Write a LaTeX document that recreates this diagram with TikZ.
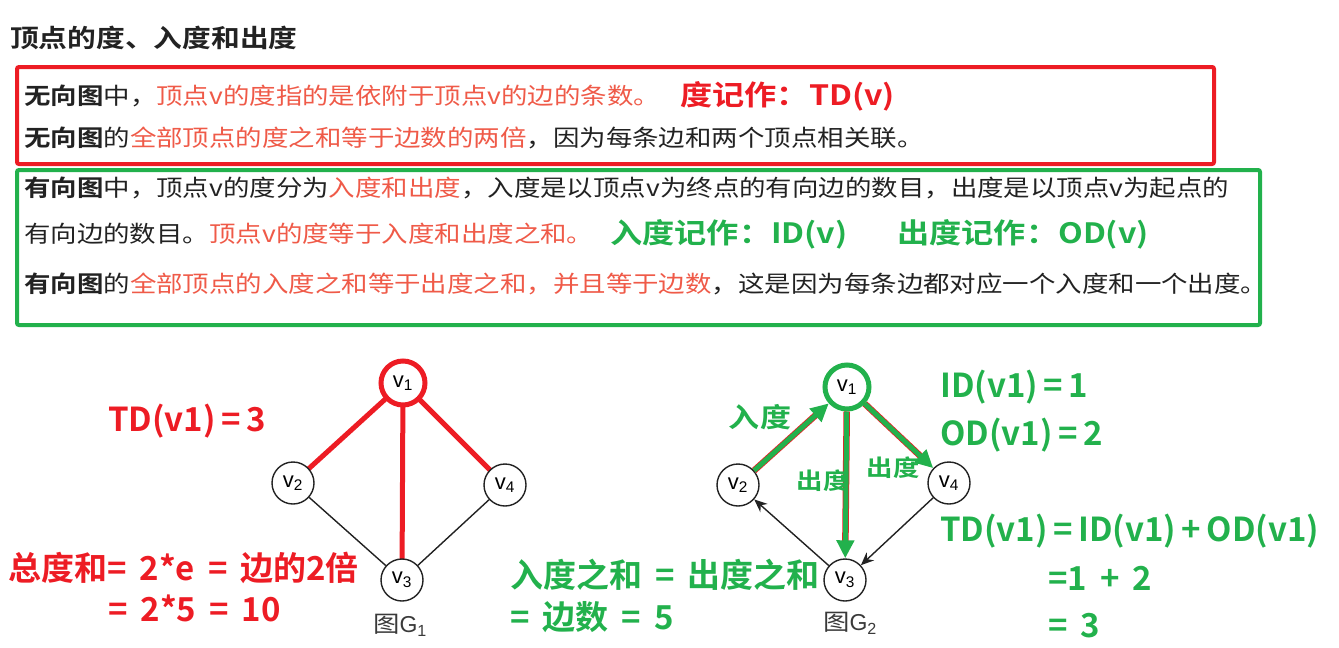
\documentclass[tikz,border=0pt]{standalone}
\usepackage{fontspec}
\setmainfont{Noto Sans CJK SC}[FakeStretch=1.15,BoldFont={Noto Sans CJK SC Bold}]
\newfontfamily\annfont{Noto Sans CJK SC}[BoldFont={Noto Sans CJK SC Bold}]
\newfontfamily\graphfont{Liberation Sans}
\usepackage{tikz}
\usetikzlibrary{arrows.meta}
\definecolor{HRed}{HTML}{ED1C24}
\definecolor{HSalmon}{HTML}{EF5A48}
\definecolor{HGreen}{HTML}{22B14C}
\definecolor{HInk}{HTML}{222222}
\definecolor{HGray}{HTML}{3A3A3A}
\newcommand{\hl}[1]{\textcolor{HSalmon}{#1}}
\newcommand{\widegap}{\spaceskip=13pt plus 2pt\relax}

\begin{document}
\begin{tikzpicture}[
  x=1pt,y=-1pt,
  body/.style={anchor=west,inner sep=0pt,text=HInk,font=\fontsize{23}{28}\selectfont},
  tagtext/.style={anchor=west,inner sep=0pt,font=\bfseries\fontsize{28}{30}\selectfont},
  big/.style={anchor=west,inner sep=0pt,execute at begin node=\widegap,
    font=\annfont\bfseries\fontsize{33}{36}\selectfont},
  lbl/.style={inner sep=0pt,text=HGreen,font=\bfseries\fontsize{#1}{#1}\selectfont},
  box/.style={line width=4pt,rounded corners=2pt},
  vtx/.style={circle,draw=HInk,line width=1.4pt,minimum size=42pt,inner sep=0pt,
    fill=white,font={\graphfont\fontsize{22}{22}\selectfont}},
  hot/.style={line width=5pt,minimum size=44pt},
  captext/.style={inner sep=0pt,text=HGray,font=\fontsize{23}{23}\selectfont},
  plainedge/.style={line width=1.4pt,color=HInk},
  redge/.style={line width=5pt,color=HRed},
  ghost/.style={line width=6.5pt,color=HRed},
  garr/.style={-{Triangle[length=18pt,width=17pt]},line width=5pt,color=HGreen},
  barr/.style={-{Stealth[length=13pt,width=11pt]},line width=1.4pt,color=HInk}
]
  \useasboundingbox (0,0) rectangle (1339,648);

  \node[anchor=west,inner sep=0pt,font=\bfseries\fontsize{25}{28}\selectfont,text=HInk]
    (title) at (10,38) {顶点的度、入度和出度};

  % undirected box
  \draw[box,HRed] (17,67) rectangle (1214,164);
  \node[body] (u1) at (24,96)
    {\textbf{无向图}中，\hl{顶点v的度指的是依附于顶点v的边的条数。}};
  \node[tagtext,text=HRed] (tdv) at (680,96) {度记作：TD(v)};
  \node[body] (u2) at (24,138)
    {\textbf{无向图}的\hl{全部顶点的度之和等于边数的两倍}，因为每条边和两个顶点相关联。};

  % directed box
  \draw[box,HGreen] (17,170) rectangle (1260,325);
  \node[body] (d1) at (24,188)
    {\textbf{有向图}中，顶点v的度分为\hl{入度和出度}，入度是以顶点v为终点的有向边的数目，出度是以顶点v为起点的};
  \node[body] (d2) at (24,234)
    {有向边的数目。\hl{顶点v的度等于入度和出度之和。}};
  \node[tagtext,text=HGreen] (idv) at (610,234) {入度记作：ID(v)};
  \node[tagtext,text=HGreen] (odv) at (897,234) {出度记作：OD(v)};
  \node[body] (d3) at (24,284)
    {\textbf{有向图}的\hl{全部顶点的入度之和等于出度之和，并且等于边数}，这是因为每条边都对应一个入度和一个出度。};

  % graph G1
  \draw[redge] (403,383) -- (293,483);
  \draw[redge] (403,383) -- (402,580);
  \draw[redge] (403,383) -- (505,485);
  \node[vtx,hot,draw=HRed] (a1) at (403,383) {v\textsubscript{1}};
  \node[vtx] (a2) at (293,483) {v\textsubscript{2}};
  \node[vtx] (a3) at (402,580) {v\textsubscript{3}};
  \node[vtx] (a4) at (505,485) {v\textsubscript{4}};
  \draw[plainedge] (a2) -- (a3);
  \draw[plainedge] (a4) -- (a3);
  \node[captext] (g1) at (400,625) {图{\graphfont G\textsubscript{1}}};

  \node[big,text=HRed] (tdone) at (108,421) {TD(v1)\,=\,3};
  \node[big,text=HRed] (sum1) at (8,568) {总度和= 2*e = 边的2倍};
  \node[big,text=HRed] (sum2) at (108,608) {= 2*5 = 10};

  % graph G2
  \node[vtx,hot,draw=HGreen] (b1) at (847,387) {v\textsubscript{1}};
  \node[vtx] (b2) at (738,485) {v\textsubscript{2}};
  \node[vtx] (b3) at (845,580) {v\textsubscript{3}};
  \node[vtx] (b4) at (949,483) {v\textsubscript{4}};
  \draw[ghost,shorten >=14pt] (b2) -- (b1);
  \draw[ghost,shorten >=14pt] (b1) -- (b3);
  \draw[ghost,shorten >=14pt] (b1) -- (b4);
  \draw[garr] (b2) -- (b1);
  \draw[garr] (b1) -- (b3);
  \draw[garr] (b1) -- (b4);
  \draw[barr] (b3) -- (b2);
  \draw[barr] (b4) -- (b3);
  \node[captext] (g2) at (850,623) {图{\graphfont G\textsubscript{2}}};

  \node[lbl=27] (inl) at (760,417) {入度};
  \node[lbl=23] (outa) at (823,481) {出度};
  \node[lbl=23] (outb) at (893,468) {出度};
  \node[big,text=HGreen] (sum3) at (510,575) {入度之和 = 出度之和};
  \node[big,text=HGreen] (sum4) at (510,617) {= 边数 = 5};

  \node[big,text=HGreen] (idone) at (940,387) {ID(v1)\,=\,1};
  \node[big,text=HGreen] (odone) at (940,435) {OD(v1)\,=\,2};
  \node[big,text=HGreen] (tdsum) at (940,531) {TD(v1)\,=\,ID(v1)\,+\,OD(v1)};
  \node[big,text=HGreen] (tdval) at (1048,578) {=1 + 2};
  \node[big,text=HGreen] (tdres) at (1048,626) {= 3};
\end{tikzpicture}
\end{document}
